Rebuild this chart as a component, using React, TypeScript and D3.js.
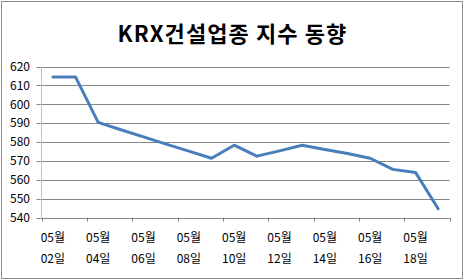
import React from "react";
import * as d3 from "d3";

const categories = [
  "05월 02일", "05월 03일", "05월 04일", "05월 05일", "05월 06일", "05월 07일",
  "05월 08일", "05월 09일", "05월 10일", "05월 11일", "05월 12일", "05월 13일",
  "05월 14일", "05월 15일", "05월 16일", "05월 17일", "05월 18일", "05월 19일",
];
const values = [
  614.4, 614.5, 590.4, 586.5, 582.7, 578.9, 575.2, 571.4, 578.3, 572.5,
  575.3, 578.3, 576.0, 573.9, 571.4, 565.5, 563.9, 544.6,
];
const yTicks = [540, 550, 560, 570, 580, 590, 600, 610, 620];
const title = "KRX건설업종 지수 동향";

const W = 465;
const H = 280;
const left = 41.5;
const right = 449.5;
const top = 66.5;
const bottom = 217.5;
const font = "'Noto Sans CJK KR', 'Noto Sans', sans-serif";

export default function App() {
  const x = d3.scaleBand<string>().domain(categories).range([left, right]);
  const y = d3.scaleLinear().domain([540, 620]).range([bottom, top]);
  const line = d3
    .line<number>()
    .x((_, i) => (x(categories[i]) as number) + x.bandwidth() / 2)
    .y((d) => y(d));
  const tickIdx = d3.range(0, categories.length + 1, 2);
  const labelIdx = d3.range(0, categories.length - 1, 2);

  return (
    <svg
      width={W}
      height={H}
      style={{ position: "absolute", left: 0, top: 0, background: "#fff" }}
    >
      <rect x={1.5} y={1.5} width={461} height={277} fill="#fff" stroke="#8c8c8c" strokeWidth={1} />
      <text
        x={232.5}
        y={41.5}
        textAnchor="middle"
        fontFamily={font}
        fontWeight="bold"
        fontSize={22}
        letterSpacing={1.1}
        fill="#000"
      >
        {title}
      </text>
      {yTicks.map((t) => (
        <g key={t}>
          <line x1={left} x2={right} y1={Math.round(y(t)) + 0.5} y2={Math.round(y(t)) + 0.5} stroke="#878787" strokeWidth={1} />
          <line x1={left - 5} x2={left} y1={Math.round(y(t)) + 0.5} y2={Math.round(y(t)) + 0.5} stroke="#878787" strokeWidth={1} />
          <text
            x={30}
            y={y(t)}
            dy="0.36em"
            textAnchor="end"
            fontFamily={font}
            fontSize={12}
            fill="#000"
          >
            {t}
          </text>
        </g>
      ))}
      <line x1={left} x2={left} y1={top} y2={bottom} stroke="#bfbfbf" strokeWidth={1} />
      {tickIdx.map((i) => {
        const xx = Math.round(left + i * x.step()) + 0.5;
        return <line key={i} x1={xx} x2={xx} y1={bottom} y2={bottom + 4} stroke="#878787" strokeWidth={1} />;
      })}
      {labelIdx.map((i) => {
        const c = categories[i];
        const cx = (x(c) as number) + x.bandwidth() / 2;
        const [m, d] = c.split(" ");
        return (
          <g key={c}>
            <text x={cx} y={241.5} textAnchor="middle" fontFamily={font} fontSize={12} fill="#000">
              {m}
            </text>
            <text x={cx} y={263} textAnchor="middle" fontFamily={font} fontSize={12} fill="#000">
              {d}
            </text>
          </g>
        );
      })}
      <path
        d={line(values) as string}
        fill="none"
        stroke="#4a7ebb"
        strokeWidth={3}
        strokeLinejoin="round"
        strokeLinecap="round"
      />
    </svg>
  );
}
